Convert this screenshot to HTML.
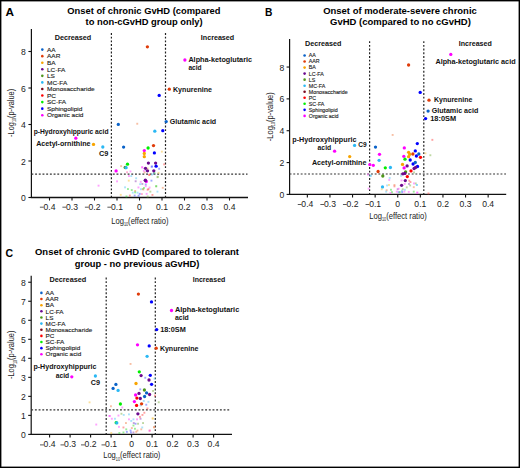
<!DOCTYPE html>
<html><head><meta charset="utf-8"><style>
html,body{margin:0;padding:0;background:#fff;}
body{width:520px;height:468px;overflow:hidden;}
svg{display:block;font-family:"Liberation Sans",sans-serif;}
</style></head><body>
<svg width="520" height="468" viewBox="0 0 520 468">
<rect x="0" y="0" width="520" height="468" fill="#fff"/>
<line x1="31.4" y1="29" x2="31.4" y2="198.1" stroke="#111" stroke-width="1.2"/>
<line x1="30.799999999999997" y1="197.5" x2="248" y2="197.5" stroke="#111" stroke-width="1.3"/>
<line x1="28.4" y1="197.5" x2="31.4" y2="197.5" stroke="#111" stroke-width="1.1"/>
<text x="23.5" y="201.0" font-size="8.6" text-anchor="middle" fill="#222">0</text>
<line x1="28.4" y1="161.0" x2="31.4" y2="161.0" stroke="#111" stroke-width="1.1"/>
<text x="23.5" y="164.5" font-size="8.6" text-anchor="middle" fill="#222">2</text>
<line x1="28.4" y1="124.5" x2="31.4" y2="124.5" stroke="#111" stroke-width="1.1"/>
<text x="23.5" y="128.0" font-size="8.6" text-anchor="middle" fill="#222">4</text>
<line x1="28.4" y1="88.0" x2="31.4" y2="88.0" stroke="#111" stroke-width="1.1"/>
<text x="23.5" y="91.5" font-size="8.6" text-anchor="middle" fill="#222">6</text>
<line x1="28.4" y1="51.5" x2="31.4" y2="51.5" stroke="#111" stroke-width="1.1"/>
<text x="23.5" y="55.0" font-size="8.6" text-anchor="middle" fill="#222">8</text>
<line x1="49.5" y1="197.5" x2="49.5" y2="200.5" stroke="#111" stroke-width="1.1"/>
<text x="49.5" y="209.5" font-size="8.6" text-anchor="middle" fill="#222">0.4</text>
<line x1="39.9" y1="207.2" x2="43.7" y2="207.2" stroke="#222" stroke-width="0.75"/>
<line x1="72.0" y1="197.5" x2="72.0" y2="200.5" stroke="#111" stroke-width="1.1"/>
<text x="72.0" y="209.5" font-size="8.6" text-anchor="middle" fill="#222">0.3</text>
<line x1="62.4" y1="207.2" x2="66.2" y2="207.2" stroke="#222" stroke-width="0.75"/>
<line x1="94.5" y1="197.5" x2="94.5" y2="200.5" stroke="#111" stroke-width="1.1"/>
<text x="94.5" y="209.5" font-size="8.6" text-anchor="middle" fill="#222">0.2</text>
<line x1="84.9" y1="207.2" x2="88.7" y2="207.2" stroke="#222" stroke-width="0.75"/>
<line x1="117.0" y1="197.5" x2="117.0" y2="200.5" stroke="#111" stroke-width="1.1"/>
<text x="117.0" y="209.5" font-size="8.6" text-anchor="middle" fill="#222">0.1</text>
<line x1="107.4" y1="207.2" x2="111.2" y2="207.2" stroke="#222" stroke-width="0.75"/>
<line x1="139.5" y1="197.5" x2="139.5" y2="200.5" stroke="#111" stroke-width="1.1"/>
<text x="139.5" y="209.5" font-size="8.6" text-anchor="middle" fill="#222">0</text>
<line x1="162.0" y1="197.5" x2="162.0" y2="200.5" stroke="#111" stroke-width="1.1"/>
<text x="162.0" y="209.5" font-size="8.6" text-anchor="middle" fill="#222">0.1</text>
<line x1="184.5" y1="197.5" x2="184.5" y2="200.5" stroke="#111" stroke-width="1.1"/>
<text x="184.5" y="209.5" font-size="8.6" text-anchor="middle" fill="#222">0.2</text>
<line x1="207.0" y1="197.5" x2="207.0" y2="200.5" stroke="#111" stroke-width="1.1"/>
<text x="207.0" y="209.5" font-size="8.6" text-anchor="middle" fill="#222">0.3</text>
<line x1="229.5" y1="197.5" x2="229.5" y2="200.5" stroke="#111" stroke-width="1.1"/>
<text x="229.5" y="209.5" font-size="8.6" text-anchor="middle" fill="#222">0.4</text>
<line x1="111.4" y1="33" x2="111.4" y2="197.5" stroke="#222" stroke-width="1.2" stroke-dasharray="1.9 1.8"/>
<line x1="165.5" y1="33" x2="165.5" y2="197.5" stroke="#222" stroke-width="1.2" stroke-dasharray="1.9 1.8"/>
<line x1="31.4" y1="174.2" x2="247.5" y2="174.2" stroke="#333" stroke-width="1.2" stroke-dasharray="1.9 1.8"/>
<line x1="289.6" y1="39" x2="289.6" y2="195.0" stroke="#111" stroke-width="1.2"/>
<line x1="289.0" y1="194.4" x2="506.2" y2="194.4" stroke="#111" stroke-width="1.3"/>
<line x1="286.6" y1="194.4" x2="289.6" y2="194.4" stroke="#111" stroke-width="1.1"/>
<text x="282.0" y="197.9" font-size="8.6" text-anchor="middle" fill="#222">0</text>
<line x1="286.6" y1="162.56" x2="289.6" y2="162.56" stroke="#111" stroke-width="1.1"/>
<text x="282.0" y="166.06" font-size="8.6" text-anchor="middle" fill="#222">2</text>
<line x1="286.6" y1="130.72" x2="289.6" y2="130.72" stroke="#111" stroke-width="1.1"/>
<text x="282.0" y="134.22" font-size="8.6" text-anchor="middle" fill="#222">4</text>
<line x1="286.6" y1="98.88000000000001" x2="289.6" y2="98.88000000000001" stroke="#111" stroke-width="1.1"/>
<text x="282.0" y="102.38" font-size="8.6" text-anchor="middle" fill="#222">6</text>
<line x1="286.6" y1="67.04" x2="289.6" y2="67.04" stroke="#111" stroke-width="1.1"/>
<text x="282.0" y="70.54" font-size="8.6" text-anchor="middle" fill="#222">8</text>
<line x1="307.35" y1="194.4" x2="307.35" y2="197.4" stroke="#111" stroke-width="1.1"/>
<text x="307.35" y="206.8" font-size="8.6" text-anchor="middle" fill="#222">0.4</text>
<line x1="297.75" y1="204.5" x2="301.55" y2="204.5" stroke="#222" stroke-width="0.75"/>
<line x1="329.95" y1="194.4" x2="329.95" y2="197.4" stroke="#111" stroke-width="1.1"/>
<text x="329.95" y="206.8" font-size="8.6" text-anchor="middle" fill="#222">0.3</text>
<line x1="320.35" y1="204.5" x2="324.15" y2="204.5" stroke="#222" stroke-width="0.75"/>
<line x1="352.55" y1="194.4" x2="352.55" y2="197.4" stroke="#111" stroke-width="1.1"/>
<text x="352.55" y="206.8" font-size="8.6" text-anchor="middle" fill="#222">0.2</text>
<line x1="342.95" y1="204.5" x2="346.75" y2="204.5" stroke="#222" stroke-width="0.75"/>
<line x1="375.15" y1="194.4" x2="375.15" y2="197.4" stroke="#111" stroke-width="1.1"/>
<text x="375.15" y="206.8" font-size="8.6" text-anchor="middle" fill="#222">0.1</text>
<line x1="365.55" y1="204.5" x2="369.35" y2="204.5" stroke="#222" stroke-width="0.75"/>
<line x1="397.75" y1="194.4" x2="397.75" y2="197.4" stroke="#111" stroke-width="1.1"/>
<text x="397.75" y="206.8" font-size="8.6" text-anchor="middle" fill="#222">0</text>
<line x1="420.35" y1="194.4" x2="420.35" y2="197.4" stroke="#111" stroke-width="1.1"/>
<text x="420.35" y="206.8" font-size="8.6" text-anchor="middle" fill="#222">0.1</text>
<line x1="442.95" y1="194.4" x2="442.95" y2="197.4" stroke="#111" stroke-width="1.1"/>
<text x="442.95" y="206.8" font-size="8.6" text-anchor="middle" fill="#222">0.2</text>
<line x1="465.55" y1="194.4" x2="465.55" y2="197.4" stroke="#111" stroke-width="1.1"/>
<text x="465.55" y="206.8" font-size="8.6" text-anchor="middle" fill="#222">0.3</text>
<line x1="488.15" y1="194.4" x2="488.15" y2="197.4" stroke="#111" stroke-width="1.1"/>
<text x="488.15" y="206.8" font-size="8.6" text-anchor="middle" fill="#222">0.4</text>
<line x1="369.6" y1="41.2" x2="369.6" y2="194.4" stroke="#222" stroke-width="1.2" stroke-dasharray="1.9 1.8"/>
<line x1="423.8" y1="41.2" x2="423.8" y2="194.4" stroke="#222" stroke-width="1.2" stroke-dasharray="1.9 1.8"/>
<line x1="289.6" y1="174.0" x2="506" y2="174.0" stroke="#333" stroke-width="1.2" stroke-dasharray="1.9 1.8"/>
<line x1="31.2" y1="275.8" x2="31.2" y2="435.0" stroke="#111" stroke-width="1.2"/>
<line x1="30.599999999999998" y1="434.4" x2="232" y2="434.4" stroke="#111" stroke-width="1.3"/>
<line x1="28.2" y1="434.4" x2="31.2" y2="434.4" stroke="#111" stroke-width="1.1"/>
<text x="23.5" y="437.9" font-size="8.6" text-anchor="middle" fill="#222">0</text>
<line x1="28.2" y1="415.38" x2="31.2" y2="415.38" stroke="#111" stroke-width="1.1"/>
<text x="23.5" y="418.88" font-size="8.6" text-anchor="middle" fill="#222">1</text>
<line x1="28.2" y1="396.35999999999996" x2="31.2" y2="396.35999999999996" stroke="#111" stroke-width="1.1"/>
<text x="23.5" y="399.86" font-size="8.6" text-anchor="middle" fill="#222">2</text>
<line x1="28.2" y1="377.34" x2="31.2" y2="377.34" stroke="#111" stroke-width="1.1"/>
<text x="23.5" y="380.84" font-size="8.6" text-anchor="middle" fill="#222">3</text>
<line x1="28.2" y1="358.32" x2="31.2" y2="358.32" stroke="#111" stroke-width="1.1"/>
<text x="23.5" y="361.82" font-size="8.6" text-anchor="middle" fill="#222">4</text>
<line x1="28.2" y1="339.29999999999995" x2="31.2" y2="339.29999999999995" stroke="#111" stroke-width="1.1"/>
<text x="23.5" y="342.8" font-size="8.6" text-anchor="middle" fill="#222">5</text>
<line x1="28.2" y1="320.28" x2="31.2" y2="320.28" stroke="#111" stroke-width="1.1"/>
<text x="23.5" y="323.78" font-size="8.6" text-anchor="middle" fill="#222">6</text>
<line x1="28.2" y1="301.26" x2="31.2" y2="301.26" stroke="#111" stroke-width="1.1"/>
<text x="23.5" y="304.76" font-size="8.6" text-anchor="middle" fill="#222">7</text>
<line x1="28.2" y1="282.24" x2="31.2" y2="282.24" stroke="#111" stroke-width="1.1"/>
<text x="23.5" y="285.74" font-size="8.6" text-anchor="middle" fill="#222">8</text>
<line x1="49.599999999999994" y1="434.4" x2="49.599999999999994" y2="437.4" stroke="#111" stroke-width="1.1"/>
<text x="49.6" y="447.2" font-size="8.6" text-anchor="middle" fill="#222">0.4</text>
<line x1="40.0" y1="444.9" x2="43.8" y2="444.9" stroke="#222" stroke-width="0.75"/>
<line x1="70.1" y1="434.4" x2="70.1" y2="437.4" stroke="#111" stroke-width="1.1"/>
<text x="70.1" y="447.2" font-size="8.6" text-anchor="middle" fill="#222">0.3</text>
<line x1="60.5" y1="444.9" x2="64.3" y2="444.9" stroke="#222" stroke-width="0.75"/>
<line x1="90.6" y1="434.4" x2="90.6" y2="437.4" stroke="#111" stroke-width="1.1"/>
<text x="90.6" y="447.2" font-size="8.6" text-anchor="middle" fill="#222">0.2</text>
<line x1="81.0" y1="444.9" x2="84.8" y2="444.9" stroke="#222" stroke-width="0.75"/>
<line x1="111.1" y1="434.4" x2="111.1" y2="437.4" stroke="#111" stroke-width="1.1"/>
<text x="111.1" y="447.2" font-size="8.6" text-anchor="middle" fill="#222">0.1</text>
<line x1="101.5" y1="444.9" x2="105.3" y2="444.9" stroke="#222" stroke-width="0.75"/>
<line x1="131.6" y1="434.4" x2="131.6" y2="437.4" stroke="#111" stroke-width="1.1"/>
<text x="131.6" y="447.2" font-size="8.6" text-anchor="middle" fill="#222">0</text>
<line x1="152.1" y1="434.4" x2="152.1" y2="437.4" stroke="#111" stroke-width="1.1"/>
<text x="152.1" y="447.2" font-size="8.6" text-anchor="middle" fill="#222">0.1</text>
<line x1="172.6" y1="434.4" x2="172.6" y2="437.4" stroke="#111" stroke-width="1.1"/>
<text x="172.6" y="447.2" font-size="8.6" text-anchor="middle" fill="#222">0.2</text>
<line x1="193.1" y1="434.4" x2="193.1" y2="437.4" stroke="#111" stroke-width="1.1"/>
<text x="193.1" y="447.2" font-size="8.6" text-anchor="middle" fill="#222">0.3</text>
<line x1="213.6" y1="434.4" x2="213.6" y2="437.4" stroke="#111" stroke-width="1.1"/>
<text x="213.6" y="447.2" font-size="8.6" text-anchor="middle" fill="#222">0.4</text>
<line x1="106.2" y1="277.5" x2="106.2" y2="434.4" stroke="#222" stroke-width="1.2" stroke-dasharray="1.9 1.8"/>
<line x1="155.3" y1="277.5" x2="155.3" y2="434.4" stroke="#222" stroke-width="1.2" stroke-dasharray="1.9 1.8"/>
<line x1="31.2" y1="409.8" x2="230" y2="409.8" stroke="#333" stroke-width="1.2" stroke-dasharray="1.9 1.8"/>
<text x="5.5" y="15.7" font-size="11.6" font-weight="bold" textLength="8.5" lengthAdjust="spacingAndGlyphs" fill="#000">A</text>
<text x="264.9" y="15.7" font-size="11.6" font-weight="bold" textLength="7.4" lengthAdjust="spacingAndGlyphs" fill="#000">B</text>
<text x="5.5" y="257.0" font-size="11.6" font-weight="bold" textLength="7.6" lengthAdjust="spacingAndGlyphs" fill="#000">C</text>
<text x="67.3" y="13.6" font-size="9.7" font-weight="bold" textLength="153.2" lengthAdjust="spacingAndGlyphs" fill="#000">Onset of chronic GvHD (compared</text>
<text x="85.6" y="24.6" font-size="9.7" font-weight="bold" textLength="117.0" lengthAdjust="spacingAndGlyphs" fill="#000">to non-cGvHD group only)</text>
<text x="323.2" y="13.6" font-size="9.7" font-weight="bold" textLength="153.6" lengthAdjust="spacingAndGlyphs" fill="#000">Onset of moderate-severe chronic</text>
<text x="330.1" y="24.6" font-size="9.7" font-weight="bold" textLength="140.8" lengthAdjust="spacingAndGlyphs" fill="#000">GvHD (compared to no cGvHD)</text>
<text x="35.0" y="255.1" font-size="9.7" font-weight="bold" textLength="204.0" lengthAdjust="spacingAndGlyphs" fill="#000">Onset of chronic GvHD (compared to tolerant</text>
<text x="74.8" y="266.5" font-size="9.7" font-weight="bold" textLength="124.6" lengthAdjust="spacingAndGlyphs" fill="#000">group - no previous aGvHD)</text>
<text x="54.7" y="39.9" font-size="7.4" font-weight="bold" textLength="36.6" lengthAdjust="spacingAndGlyphs" fill="#111">Decreased</text>
<text x="200.8" y="40.0" font-size="7.4" font-weight="bold" textLength="33.4" lengthAdjust="spacingAndGlyphs" fill="#111">Increased</text>
<text x="305.0" y="45.6" font-size="7.4" font-weight="bold" textLength="36.4" lengthAdjust="spacingAndGlyphs" fill="#111">Decreased</text>
<text x="458.8" y="45.6" font-size="7.4" font-weight="bold" textLength="33.0" lengthAdjust="spacingAndGlyphs" fill="#111">Increased</text>
<text x="49.4" y="281.8" font-size="7.4" font-weight="bold" textLength="36.9" lengthAdjust="spacingAndGlyphs" fill="#111">Decreased</text>
<text x="192.7" y="282.2" font-size="7.4" font-weight="bold" textLength="32.6" lengthAdjust="spacingAndGlyphs" fill="#111">Increased</text>
<circle cx="42.3" cy="49.6" r="1.3" fill="#0a62c8"/>
<circle cx="42.3" cy="56.16" r="1.3" fill="#e03c0a"/>
<circle cx="42.3" cy="62.72" r="1.3" fill="#f8a400"/>
<circle cx="42.3" cy="69.28" r="1.3" fill="#6c0a8e"/>
<circle cx="42.3" cy="75.84" r="1.3" fill="#4e961c"/>
<circle cx="42.3" cy="82.4" r="1.3" fill="#2ab8f4"/>
<circle cx="42.3" cy="88.96" r="1.3" fill="#7a0a1e"/>
<circle cx="42.3" cy="95.52" r="1.3" fill="#ff0000"/>
<circle cx="42.3" cy="102.08" r="1.3" fill="#00ee00"/>
<circle cx="42.3" cy="108.64" r="1.3" fill="#0000ff"/>
<circle cx="42.3" cy="115.2" r="1.3" fill="#ff00ff"/>
<g transform="translate(47.0,0) scale(1.05,1)">
<text x="0" y="51.83" font-size="6.2" fill="#1a1a1a" stroke="#1a1a1a" stroke-width="0.12">AA</text>
<text x="0" y="58.39" font-size="6.2" fill="#1a1a1a" stroke="#1a1a1a" stroke-width="0.12">AAR</text>
<text x="0" y="64.95" font-size="6.2" fill="#1a1a1a" stroke="#1a1a1a" stroke-width="0.12">BA</text>
<text x="0" y="71.51" font-size="6.2" fill="#1a1a1a" stroke="#1a1a1a" stroke-width="0.12">LC-FA</text>
<text x="0" y="78.07" font-size="6.2" fill="#1a1a1a" stroke="#1a1a1a" stroke-width="0.12">LS</text>
<text x="0" y="84.63" font-size="6.2" fill="#1a1a1a" stroke="#1a1a1a" stroke-width="0.12">MC-FA</text>
<text x="0" y="91.19" font-size="6.2" fill="#1a1a1a" stroke="#1a1a1a" stroke-width="0.12">Monosaccharide</text>
<text x="0" y="97.75" font-size="6.2" fill="#1a1a1a" stroke="#1a1a1a" stroke-width="0.12">PC</text>
<text x="0" y="104.31" font-size="6.2" fill="#1a1a1a" stroke="#1a1a1a" stroke-width="0.12">SC-FA</text>
<text x="0" y="110.87" font-size="6.2" fill="#1a1a1a" stroke="#1a1a1a" stroke-width="0.12">Sphingolipid</text>
<text x="0" y="117.43" font-size="6.2" fill="#1a1a1a" stroke="#1a1a1a" stroke-width="0.12">Organic acid</text>
</g>
<circle cx="304.6" cy="55.5" r="1.3" fill="#0a62c8"/>
<circle cx="304.6" cy="61.54" r="1.3" fill="#e03c0a"/>
<circle cx="304.6" cy="67.58" r="1.3" fill="#f8a400"/>
<circle cx="304.6" cy="73.62" r="1.3" fill="#6c0a8e"/>
<circle cx="304.6" cy="79.66" r="1.3" fill="#4e961c"/>
<circle cx="304.6" cy="85.7" r="1.3" fill="#2ab8f4"/>
<circle cx="304.6" cy="91.74" r="1.3" fill="#7a0a1e"/>
<circle cx="304.6" cy="97.78" r="1.3" fill="#ff0000"/>
<circle cx="304.6" cy="103.82" r="1.3" fill="#00ee00"/>
<circle cx="304.6" cy="109.86" r="1.3" fill="#0000ff"/>
<circle cx="304.6" cy="115.9" r="1.3" fill="#ff00ff"/>
<g transform="translate(308.8,0) scale(1.0,1)">
<text x="0" y="57.41" font-size="5.3" fill="#1a1a1a" stroke="#1a1a1a" stroke-width="0.12">AA</text>
<text x="0" y="63.45" font-size="5.3" fill="#1a1a1a" stroke="#1a1a1a" stroke-width="0.12">AAR</text>
<text x="0" y="69.49" font-size="5.3" fill="#1a1a1a" stroke="#1a1a1a" stroke-width="0.12">BA</text>
<text x="0" y="75.53" font-size="5.3" fill="#1a1a1a" stroke="#1a1a1a" stroke-width="0.12">LC-FA</text>
<text x="0" y="81.57" font-size="5.3" fill="#1a1a1a" stroke="#1a1a1a" stroke-width="0.12">LS</text>
<text x="0" y="87.61" font-size="5.3" fill="#1a1a1a" stroke="#1a1a1a" stroke-width="0.12">MC-FA</text>
<text x="0" y="93.65" font-size="5.3" fill="#1a1a1a" stroke="#1a1a1a" stroke-width="0.12">Monosaccharide</text>
<text x="0" y="99.69" font-size="5.3" fill="#1a1a1a" stroke="#1a1a1a" stroke-width="0.12">PC</text>
<text x="0" y="105.73" font-size="5.3" fill="#1a1a1a" stroke="#1a1a1a" stroke-width="0.12">SC-FA</text>
<text x="0" y="111.77" font-size="5.3" fill="#1a1a1a" stroke="#1a1a1a" stroke-width="0.12">Sphingolipid</text>
<text x="0" y="117.81" font-size="5.3" fill="#1a1a1a" stroke="#1a1a1a" stroke-width="0.12">Organic acid</text>
</g>
<circle cx="41.4" cy="292.9" r="1.3" fill="#0a62c8"/>
<circle cx="41.4" cy="299.04" r="1.3" fill="#e03c0a"/>
<circle cx="41.4" cy="305.18" r="1.3" fill="#f8a400"/>
<circle cx="41.4" cy="311.32" r="1.3" fill="#6c0a8e"/>
<circle cx="41.4" cy="317.46" r="1.3" fill="#4e961c"/>
<circle cx="41.4" cy="323.6" r="1.3" fill="#2ab8f4"/>
<circle cx="41.4" cy="329.74" r="1.3" fill="#7a0a1e"/>
<circle cx="41.4" cy="335.88" r="1.3" fill="#ff0000"/>
<circle cx="41.4" cy="342.02" r="1.3" fill="#00ee00"/>
<circle cx="41.4" cy="348.16" r="1.3" fill="#0000ff"/>
<circle cx="41.4" cy="354.3" r="1.3" fill="#ff00ff"/>
<g transform="translate(45.6,0) scale(1.045,1)">
<text x="0" y="295.1" font-size="6.1" fill="#1a1a1a" stroke="#1a1a1a" stroke-width="0.12">AA</text>
<text x="0" y="301.24" font-size="6.1" fill="#1a1a1a" stroke="#1a1a1a" stroke-width="0.12">AAR</text>
<text x="0" y="307.38" font-size="6.1" fill="#1a1a1a" stroke="#1a1a1a" stroke-width="0.12">BA</text>
<text x="0" y="313.52" font-size="6.1" fill="#1a1a1a" stroke="#1a1a1a" stroke-width="0.12">LC-FA</text>
<text x="0" y="319.66" font-size="6.1" fill="#1a1a1a" stroke="#1a1a1a" stroke-width="0.12">LS</text>
<text x="0" y="325.8" font-size="6.1" fill="#1a1a1a" stroke="#1a1a1a" stroke-width="0.12">MC-FA</text>
<text x="0" y="331.94" font-size="6.1" fill="#1a1a1a" stroke="#1a1a1a" stroke-width="0.12">Monosaccharide</text>
<text x="0" y="338.08" font-size="6.1" fill="#1a1a1a" stroke="#1a1a1a" stroke-width="0.12">PC</text>
<text x="0" y="344.22" font-size="6.1" fill="#1a1a1a" stroke="#1a1a1a" stroke-width="0.12">SC-FA</text>
<text x="0" y="350.36" font-size="6.1" fill="#1a1a1a" stroke="#1a1a1a" stroke-width="0.12">Sphingolipid</text>
<text x="0" y="356.5" font-size="6.1" fill="#1a1a1a" stroke="#1a1a1a" stroke-width="0.12">Organic acid</text>
</g>
<text x="111.2" y="223.5" font-size="9.2" fill="#222" textLength="57.3" lengthAdjust="spacingAndGlyphs">Log<tspan font-size="4.6" dy="2.6">10</tspan><tspan dy="-2.6">(effect ratio)</tspan></text>
<text x="369.29999999999995" y="218.5" font-size="9.2" fill="#222" textLength="57.400000000000034" lengthAdjust="spacingAndGlyphs">Log<tspan font-size="4.6" dy="2.6">10</tspan><tspan dy="-2.6">(effect ratio)</tspan></text>
<text x="103.2" y="458.2" font-size="9.2" fill="#222" textLength="57.2" lengthAdjust="spacingAndGlyphs">Log<tspan font-size="4.6" dy="2.6">10</tspan><tspan dy="-2.6">(effect ratio)</tspan></text>
<text transform="translate(13.8,136.9) rotate(-90)" x="0" y="0" font-size="9.2" fill="#222" textLength="48.10000000000001" lengthAdjust="spacingAndGlyphs">-Log<tspan font-size="4.6" dy="2.6">10</tspan><tspan dy="-2.6">(p-value)</tspan></text>
<text transform="translate(272.8,141.2) rotate(-90)" x="0" y="0" font-size="9.2" fill="#222" textLength="48.999999999999986" lengthAdjust="spacingAndGlyphs">-Log<tspan font-size="4.6" dy="2.6">10</tspan><tspan dy="-2.6">(p-value)</tspan></text>
<text transform="translate(13.9,379.0) rotate(-90)" x="0" y="0" font-size="9.2" fill="#222" textLength="48.39999999999998" lengthAdjust="spacingAndGlyphs">-Log<tspan font-size="4.6" dy="2.6">10</tspan><tspan dy="-2.6">(p-value)</tspan></text>
<rect x="136.3" y="122.8" width="1.9" height="1.9" fill="#f08a5a" opacity="0.55"/>
<rect x="160.9" y="150.7" width="1.9" height="1.9" fill="#f7c64a" opacity="0.55"/>
<rect x="120.2" y="165.2" width="1.9" height="1.9" fill="#f08a5a" opacity="0.55"/>
<rect x="126.1" y="171.3" width="1.9" height="1.9" fill="#ff66aa" opacity="0.55"/>
<rect x="129.5" y="170.5" width="1.9" height="1.9" fill="#ff55ff" opacity="0.55"/>
<rect x="141.3" y="166.1" width="1.9" height="1.9" fill="#ff55ff" opacity="0.55"/>
<rect x="151.1" y="165.5" width="1.9" height="1.9" fill="#5560ff" opacity="0.55"/>
<rect x="158.2" y="167.8" width="1.9" height="1.9" fill="#5560ff" opacity="0.55"/>
<rect x="163.2" y="163.4" width="1.9" height="1.9" fill="#ff5555" opacity="0.55"/>
<rect x="128.0" y="175.1" width="1.9" height="1.9" fill="#ff55ff" opacity="0.55"/>
<rect x="130.3" y="175.1" width="1.9" height="1.9" fill="#66ccf5" opacity="0.55"/>
<rect x="116.1" y="180.4" width="1.9" height="1.9" fill="#ff55ff" opacity="0.55"/>
<rect x="135.2" y="177.3" width="1.9" height="1.9" fill="#66ccf5" opacity="0.55"/>
<rect x="127.8" y="179.7" width="1.9" height="1.9" fill="#f7c64a" opacity="0.55"/>
<rect x="134.7" y="180.3" width="1.9" height="1.9" fill="#9955bb" opacity="0.55"/>
<rect x="150.5" y="179.7" width="1.9" height="1.9" fill="#5560ff" opacity="0.55"/>
<rect x="156.8" y="175.8" width="1.9" height="1.9" fill="#88b855" opacity="0.55"/>
<rect x="139.8" y="180.9" width="1.9" height="1.9" fill="#ff55ff" opacity="0.55"/>
<rect x="139.2" y="183.2" width="1.9" height="1.9" fill="#66ccf5" opacity="0.55"/>
<rect x="141.4" y="183.0" width="1.9" height="1.9" fill="#9955bb" opacity="0.55"/>
<rect x="144.8" y="183.5" width="1.9" height="1.9" fill="#5560ff" opacity="0.55"/>
<rect x="144.8" y="185.2" width="1.9" height="1.9" fill="#ff55ff" opacity="0.55"/>
<rect x="124.1" y="186.4" width="1.9" height="1.9" fill="#66ccf5" opacity="0.55"/>
<rect x="127.0" y="188.1" width="1.9" height="1.9" fill="#44e044" opacity="0.55"/>
<rect x="130.8" y="189.1" width="1.9" height="1.9" fill="#44e044" opacity="0.55"/>
<rect x="134.2" y="190.0" width="1.9" height="1.9" fill="#f08a5a" opacity="0.55"/>
<rect x="146.7" y="188.8" width="1.9" height="1.9" fill="#ff5555" opacity="0.55"/>
<rect x="147.5" y="188.1" width="1.9" height="1.9" fill="#ff5555" opacity="0.55"/>
<rect x="148.6" y="186.6" width="1.9" height="1.9" fill="#ff55ff" opacity="0.55"/>
<rect x="141.9" y="188.1" width="1.9" height="1.9" fill="#88b855" opacity="0.55"/>
<rect x="142.4" y="188.6" width="1.9" height="1.9" fill="#f08a5a" opacity="0.55"/>
<rect x="140.0" y="188.3" width="1.9" height="1.9" fill="#66ccf5" opacity="0.55"/>
<rect x="155.2" y="185.4" width="1.9" height="1.9" fill="#88b855" opacity="0.55"/>
<rect x="161.8" y="186.9" width="1.9" height="1.9" fill="#f08a5a" opacity="0.55"/>
<rect x="156.5" y="190.7" width="1.9" height="1.9" fill="#66ccf5" opacity="0.55"/>
<rect x="149.4" y="190.7" width="1.9" height="1.9" fill="#88b855" opacity="0.55"/>
<rect x="131.8" y="191.7" width="1.9" height="1.9" fill="#66ccf5" opacity="0.55"/>
<rect x="134.2" y="191.4" width="1.9" height="1.9" fill="#44e044" opacity="0.55"/>
<rect x="136.6" y="191.7" width="1.9" height="1.9" fill="#66ccf5" opacity="0.55"/>
<rect x="138.8" y="192.9" width="1.9" height="1.9" fill="#5560ff" opacity="0.55"/>
<rect x="140.9" y="193.1" width="1.9" height="1.9" fill="#ff66aa" opacity="0.55"/>
<rect x="145.7" y="192.9" width="1.9" height="1.9" fill="#ff55ff" opacity="0.55"/>
<rect x="128.9" y="194.6" width="1.9" height="1.9" fill="#ff5555" opacity="0.55"/>
<rect x="133.7" y="194.6" width="1.9" height="1.9" fill="#5560ff" opacity="0.55"/>
<rect x="137.6" y="194.8" width="1.9" height="1.9" fill="#5560ff" opacity="0.55"/>
<rect x="125.5" y="195.5" width="1.9" height="1.9" fill="#44e044" opacity="0.55"/>
<rect x="119.8" y="193.9" width="1.9" height="1.9" fill="#f7c64a" opacity="0.55"/>
<rect x="146.7" y="195.5" width="1.9" height="1.9" fill="#88b855" opacity="0.55"/>
<rect x="152.9" y="172.4" width="1.9" height="1.9" fill="#5560ff" opacity="0.55"/>
<rect x="148.6" y="173.7" width="1.9" height="1.9" fill="#ff5555" opacity="0.55"/>
<rect x="97.6" y="184.7" width="1.9" height="1.9" fill="#ff55ff" opacity="0.55"/>
<rect x="156.6" y="176.2" width="1.9" height="1.9" fill="#88b855" opacity="0.55"/>
<rect x="150.7" y="165.8" width="1.9" height="1.9" fill="#5560ff" opacity="0.55"/>
<rect x="141.2" y="166.6" width="1.9" height="1.9" fill="#ff55ff" opacity="0.55"/>
<rect x="142.9" y="169.9" width="1.9" height="1.9" fill="#ff55ff" opacity="0.55"/>
<rect x="146.6" y="167.6" width="1.9" height="1.9" fill="#f7c64a" opacity="0.55"/>
<rect x="145.4" y="169.7" width="1.9" height="1.9" fill="#5560ff" opacity="0.55"/>
<rect x="143.6" y="171.5" width="1.9" height="1.9" fill="#f08a5a" opacity="0.55"/>
<rect x="148.2" y="174.0" width="1.9" height="1.9" fill="#ff5555" opacity="0.55"/>
<rect x="151.1" y="173.6" width="1.9" height="1.9" fill="#66ccf5" opacity="0.55"/>
<rect x="153.5" y="172.2" width="1.9" height="1.9" fill="#44e044" opacity="0.55"/>
<rect x="157.6" y="171.9" width="1.9" height="1.9" fill="#f7c64a" opacity="0.55"/>
<rect x="155.3" y="185.2" width="1.9" height="1.9" fill="#44e044" opacity="0.55"/>
<rect x="143.0" y="187.0" width="1.9" height="1.9" fill="#44e044" opacity="0.55"/>
<rect x="137.5" y="186.5" width="1.9" height="1.9" fill="#ff55ff" opacity="0.55"/>
<rect x="151.5" y="194.0" width="1.9" height="1.9" fill="#ff5555" opacity="0.55"/>
<rect x="391.7" y="134.0" width="1.9" height="1.9" fill="#f08a5a" opacity="0.55"/>
<rect x="424.5" y="152.4" width="1.9" height="1.9" fill="#f7c64a" opacity="0.55"/>
<rect x="431.4" y="138.9" width="1.9" height="1.9" fill="#ff5555" opacity="0.55"/>
<rect x="429.4" y="154.3" width="1.9" height="1.9" fill="#88b855" opacity="0.55"/>
<rect x="416.3" y="191.7" width="1.9" height="1.9" fill="#ff55ff" opacity="0.55"/>
<rect x="427.5" y="192.5" width="1.9" height="1.9" fill="#ff5555" opacity="0.55"/>
<rect x="415.8" y="184.0" width="1.9" height="1.9" fill="#66ccf5" opacity="0.55"/>
<rect x="414.8" y="182.5" width="1.9" height="1.9" fill="#88b855" opacity="0.55"/>
<rect x="367.0" y="173.6" width="1.9" height="1.9" fill="#ff55ff" opacity="0.55"/>
<rect x="370.0" y="174.9" width="1.9" height="1.9" fill="#66ccf5" opacity="0.55"/>
<rect x="367.7" y="187.7" width="1.9" height="1.9" fill="#ff55ff" opacity="0.55"/>
<rect x="369.3" y="174.6" width="1.9" height="1.9" fill="#66ccf5" opacity="0.55"/>
<rect x="413.1" y="171.5" width="1.9" height="1.9" fill="#88b855" opacity="0.55"/>
<rect x="388.7" y="177.0" width="1.9" height="1.9" fill="#66ccf5" opacity="0.55"/>
<rect x="388.3" y="179.0" width="1.9" height="1.9" fill="#ff55ff" opacity="0.55"/>
<rect x="400.1" y="174.8" width="1.9" height="1.9" fill="#66ccf5" opacity="0.55"/>
<rect x="400.6" y="179.5" width="1.9" height="1.9" fill="#ff55ff" opacity="0.55"/>
<rect x="403.7" y="183.0" width="1.9" height="1.9" fill="#ff55ff" opacity="0.55"/>
<rect x="408.3" y="179.7" width="1.9" height="1.9" fill="#ff5555" opacity="0.55"/>
<rect x="409.5" y="181.1" width="1.9" height="1.9" fill="#ff5555" opacity="0.55"/>
<rect x="408.0" y="183.0" width="1.9" height="1.9" fill="#9955bb" opacity="0.55"/>
<rect x="409.2" y="184.5" width="1.9" height="1.9" fill="#88b855" opacity="0.55"/>
<rect x="413.0" y="182.5" width="1.9" height="1.9" fill="#ff55ff" opacity="0.55"/>
<rect x="416.0" y="184.0" width="1.9" height="1.9" fill="#66ccf5" opacity="0.55"/>
<rect x="412.8" y="186.2" width="1.9" height="1.9" fill="#f08a5a" opacity="0.55"/>
<rect x="405.8" y="186.4" width="1.9" height="1.9" fill="#88b855" opacity="0.55"/>
<rect x="393.5" y="184.0" width="1.9" height="1.9" fill="#f08a5a" opacity="0.55"/>
<rect x="393.5" y="185.4" width="1.9" height="1.9" fill="#ff5555" opacity="0.55"/>
<rect x="388.0" y="184.0" width="1.9" height="1.9" fill="#f7c64a" opacity="0.55"/>
<rect x="386.1" y="184.5" width="1.9" height="1.9" fill="#66ccf5" opacity="0.55"/>
<rect x="380.8" y="188.3" width="1.9" height="1.9" fill="#f7c64a" opacity="0.55"/>
<rect x="385.7" y="189.3" width="1.9" height="1.9" fill="#f08a5a" opacity="0.55"/>
<rect x="385.2" y="190.7" width="1.9" height="1.9" fill="#66ccf5" opacity="0.55"/>
<rect x="390.0" y="188.8" width="1.9" height="1.9" fill="#44e044" opacity="0.55"/>
<rect x="391.0" y="191.2" width="1.9" height="1.9" fill="#44e044" opacity="0.55"/>
<rect x="389.5" y="192.0" width="1.9" height="1.9" fill="#ff55ff" opacity="0.55"/>
<rect x="396.7" y="188.3" width="1.9" height="1.9" fill="#9955bb" opacity="0.55"/>
<rect x="397.7" y="187.8" width="1.9" height="1.9" fill="#ff55ff" opacity="0.55"/>
<rect x="395.8" y="190.7" width="1.9" height="1.9" fill="#ff55ff" opacity="0.55"/>
<rect x="397.7" y="191.2" width="1.9" height="1.9" fill="#5560ff" opacity="0.55"/>
<rect x="398.9" y="191.2" width="1.9" height="1.9" fill="#44e044" opacity="0.55"/>
<rect x="401.0" y="189.8" width="1.9" height="1.9" fill="#66ccf5" opacity="0.55"/>
<rect x="401.8" y="188.3" width="1.9" height="1.9" fill="#88b855" opacity="0.55"/>
<rect x="403.9" y="188.8" width="1.9" height="1.9" fill="#66ccf5" opacity="0.55"/>
<rect x="403.4" y="190.7" width="1.9" height="1.9" fill="#ff55ff" opacity="0.55"/>
<rect x="407.8" y="191.0" width="1.9" height="1.9" fill="#ff55ff" opacity="0.55"/>
<rect x="412.8" y="190.7" width="1.9" height="1.9" fill="#44e044" opacity="0.55"/>
<rect x="416.4" y="191.7" width="1.9" height="1.9" fill="#ff55ff" opacity="0.55"/>
<rect x="401.2" y="191.2" width="1.9" height="1.9" fill="#5560ff" opacity="0.55"/>
<rect x="129.6" y="363.0" width="1.9" height="1.9" fill="#f08a5a" opacity="0.55"/>
<rect x="144.3" y="376.8" width="1.9" height="1.9" fill="#5560ff" opacity="0.55"/>
<rect x="153.6" y="377.8" width="1.9" height="1.9" fill="#66ccf5" opacity="0.55"/>
<rect x="139.3" y="388.4" width="1.9" height="1.9" fill="#5560ff" opacity="0.55"/>
<rect x="152.1" y="390.0" width="1.9" height="1.9" fill="#88b855" opacity="0.55"/>
<rect x="154.0" y="394.6" width="1.9" height="1.9" fill="#ff5555" opacity="0.55"/>
<rect x="142.8" y="400.0" width="1.9" height="1.9" fill="#66ccf5" opacity="0.55"/>
<rect x="147.5" y="400.9" width="1.9" height="1.9" fill="#66ccf5" opacity="0.55"/>
<rect x="139.6" y="404.6" width="1.9" height="1.9" fill="#66ccf5" opacity="0.55"/>
<rect x="145.3" y="403.8" width="1.9" height="1.9" fill="#5560ff" opacity="0.55"/>
<rect x="121.3" y="406.5" width="1.9" height="1.9" fill="#ff55ff" opacity="0.55"/>
<rect x="110.0" y="405.3" width="1.9" height="1.9" fill="#f08a5a" opacity="0.55"/>
<rect x="146.5" y="407.5" width="1.9" height="1.9" fill="#ff5555" opacity="0.55"/>
<rect x="157.8" y="401.3" width="1.9" height="1.9" fill="#88b855" opacity="0.55"/>
<rect x="88.6" y="401.4" width="1.9" height="1.9" fill="#f7c64a" opacity="0.55"/>
<rect x="95.3" y="423.6" width="1.9" height="1.9" fill="#ff55ff" opacity="0.55"/>
<rect x="108.5" y="415.0" width="1.9" height="1.9" fill="#ff55ff" opacity="0.55"/>
<rect x="108.8" y="415.0" width="1.9" height="1.9" fill="#ff55ff" opacity="0.55"/>
<rect x="110.9" y="417.8" width="1.9" height="1.9" fill="#ff55ff" opacity="0.55"/>
<rect x="114.0" y="417.8" width="1.9" height="1.9" fill="#66ccf5" opacity="0.55"/>
<rect x="117.5" y="414.6" width="1.9" height="1.9" fill="#ff55ff" opacity="0.55"/>
<rect x="122.8" y="414.0" width="1.9" height="1.9" fill="#66ccf5" opacity="0.55"/>
<rect x="120.5" y="412.8" width="1.9" height="1.9" fill="#88b855" opacity="0.55"/>
<rect x="128.0" y="413.4" width="1.9" height="1.9" fill="#66ccf5" opacity="0.55"/>
<rect x="141.5" y="414.0" width="1.9" height="1.9" fill="#ff5555" opacity="0.55"/>
<rect x="143.4" y="411.8" width="1.9" height="1.9" fill="#ff5555" opacity="0.55"/>
<rect x="139.0" y="415.9" width="1.9" height="1.9" fill="#ff5555" opacity="0.55"/>
<rect x="136.1" y="418.4" width="1.9" height="1.9" fill="#ff55ff" opacity="0.55"/>
<rect x="139.6" y="417.8" width="1.9" height="1.9" fill="#9955bb" opacity="0.55"/>
<rect x="132.5" y="418.4" width="1.9" height="1.9" fill="#66ccf5" opacity="0.55"/>
<rect x="128.0" y="418.4" width="1.9" height="1.9" fill="#ff55ff" opacity="0.55"/>
<rect x="130.3" y="420.0" width="1.9" height="1.9" fill="#66ccf5" opacity="0.55"/>
<rect x="125.0" y="422.1" width="1.9" height="1.9" fill="#f08a5a" opacity="0.55"/>
<rect x="132.8" y="422.1" width="1.9" height="1.9" fill="#9955bb" opacity="0.55"/>
<rect x="134.6" y="422.8" width="1.9" height="1.9" fill="#5560ff" opacity="0.55"/>
<rect x="137.1" y="422.8" width="1.9" height="1.9" fill="#88b855" opacity="0.55"/>
<rect x="142.1" y="422.1" width="1.9" height="1.9" fill="#88b855" opacity="0.55"/>
<rect x="132.5" y="424.6" width="1.9" height="1.9" fill="#44e044" opacity="0.55"/>
<rect x="118.0" y="425.9" width="1.9" height="1.9" fill="#ff55ff" opacity="0.55"/>
<rect x="122.5" y="426.5" width="1.9" height="1.9" fill="#ff5555" opacity="0.55"/>
<rect x="125.3" y="428.4" width="1.9" height="1.9" fill="#44e044" opacity="0.55"/>
<rect x="130.9" y="427.1" width="1.9" height="1.9" fill="#f08a5a" opacity="0.55"/>
<rect x="134.0" y="427.8" width="1.9" height="1.9" fill="#44e044" opacity="0.55"/>
<rect x="129.6" y="429.6" width="1.9" height="1.9" fill="#5560ff" opacity="0.55"/>
<rect x="125.9" y="430.9" width="1.9" height="1.9" fill="#5560ff" opacity="0.55"/>
<rect x="136.5" y="429.6" width="1.9" height="1.9" fill="#f08a5a" opacity="0.55"/>
<rect x="140.3" y="428.4" width="1.9" height="1.9" fill="#f08a5a" opacity="0.55"/>
<rect x="141.3" y="426.5" width="1.9" height="1.9" fill="#66ccf5" opacity="0.55"/>
<rect x="148.8" y="429.6" width="1.9" height="1.9" fill="#ff5555" opacity="0.55"/>
<rect x="151.5" y="417.5" width="1.9" height="1.9" fill="#f7c64a" opacity="0.55"/>
<rect x="153.0" y="426.3" width="1.9" height="1.9" fill="#f08a5a" opacity="0.55"/>
<rect x="122.5" y="431.5" width="1.9" height="1.9" fill="#44e044" opacity="0.55"/>
<rect x="118.4" y="432.1" width="1.9" height="1.9" fill="#44e044" opacity="0.55"/>
<rect x="130.0" y="431.5" width="1.9" height="1.9" fill="#5560ff" opacity="0.55"/>
<rect x="132.5" y="431.5" width="1.9" height="1.9" fill="#9955bb" opacity="0.55"/>
<rect x="135.3" y="430.9" width="1.9" height="1.9" fill="#f08a5a" opacity="0.55"/>
<rect x="110.3" y="432.1" width="1.9" height="1.9" fill="#f7c64a" opacity="0.55"/>
<rect x="148.5" y="429.8" width="1.9" height="1.9" fill="#ff55ff" opacity="0.55"/>
<rect x="152.0" y="417.6" width="1.9" height="1.9" fill="#f7c64a" opacity="0.55"/>
<rect x="153.2" y="426.3" width="1.9" height="1.9" fill="#f08a5a" opacity="0.55"/>
<circle cx="147.4" cy="46.8" r="1.65" fill="#e03c0a"/>
<circle cx="184.9" cy="60.0" r="1.65" fill="#ff00ff"/>
<circle cx="169.3" cy="89.2" r="1.65" fill="#e03c0a"/>
<circle cx="159.2" cy="95.4" r="1.65" fill="#0000ff"/>
<circle cx="166.2" cy="121.6" r="1.65" fill="#0a62c8"/>
<circle cx="118.3" cy="124.4" r="1.65" fill="#0a62c8"/>
<circle cx="154.8" cy="131.2" r="1.65" fill="#2ab8f4"/>
<circle cx="162.8" cy="130.7" r="1.65" fill="#0000ff"/>
<circle cx="75.8" cy="138.2" r="1.65" fill="#ff00ff"/>
<circle cx="93.5" cy="144.4" r="1.65" fill="#f8a400"/>
<circle cx="102.8" cy="147.0" r="1.65" fill="#2ab8f4"/>
<circle cx="123.6" cy="147.1" r="1.65" fill="#0a62c8"/>
<circle cx="153.5" cy="145.6" r="1.65" fill="#e03c0a"/>
<circle cx="148.1" cy="148.0" r="1.65" fill="#00ee00"/>
<circle cx="144.3" cy="150.6" r="1.65" fill="#ff00ff"/>
<circle cx="144.3" cy="153.5" r="1.65" fill="#f8a400"/>
<circle cx="144.3" cy="156.7" r="1.65" fill="#f8a400"/>
<circle cx="154.4" cy="152.9" r="1.65" fill="#0000ff"/>
<circle cx="127.5" cy="164.2" r="1.65" fill="#00ee00"/>
<circle cx="125.2" cy="167.5" r="1.65" fill="#4e961c"/>
<circle cx="126.1" cy="167.7" r="1.65" fill="#2ab8f4"/>
<circle cx="116.1" cy="170.9" r="1.65" fill="#ff00ff"/>
<circle cx="148.4" cy="163.1" r="1.65" fill="#6c0a8e"/>
<circle cx="155.6" cy="163.1" r="1.65" fill="#6c0a8e"/>
<circle cx="156.1" cy="166.2" r="1.65" fill="#0000ff"/>
<circle cx="145.5" cy="168.3" r="1.65" fill="#6c0a8e"/>
<circle cx="147.5" cy="170.8" r="1.65" fill="#6c0a8e"/>
<circle cx="153.8" cy="170.8" r="1.65" fill="#6c0a8e"/>
<circle cx="145.3" cy="180.2" r="1.65" fill="#6c0a8e"/>
<circle cx="146.3" cy="181.4" r="1.65" fill="#ff00ff"/>
<circle cx="145.5" cy="180.6" r="1.65" fill="#6c0a8e"/>
<circle cx="450.8" cy="54.4" r="1.65" fill="#ff00ff"/>
<circle cx="408.6" cy="65.0" r="1.65" fill="#e03c0a"/>
<circle cx="420.2" cy="92.4" r="1.65" fill="#0000ff"/>
<circle cx="429.0" cy="100.2" r="1.65" fill="#e03c0a"/>
<circle cx="428.1" cy="111.1" r="1.65" fill="#0a62c8"/>
<circle cx="425.6" cy="118.6" r="1.65" fill="#0000ff"/>
<circle cx="354.6" cy="145.4" r="1.65" fill="#2ab8f4"/>
<circle cx="334.6" cy="151.2" r="1.65" fill="#ff00ff"/>
<circle cx="349.7" cy="156.6" r="1.65" fill="#f8a400"/>
<circle cx="375.5" cy="147.1" r="1.65" fill="#0a62c8"/>
<circle cx="417.3" cy="143.6" r="1.65" fill="#0000ff"/>
<circle cx="404.3" cy="147.9" r="1.65" fill="#ff00ff"/>
<circle cx="379.5" cy="154.3" r="1.65" fill="#ff00ff"/>
<circle cx="415.3" cy="150.9" r="1.65" fill="#0000ff"/>
<circle cx="408.6" cy="152.3" r="1.65" fill="#f8a400"/>
<circle cx="409.8" cy="154.3" r="1.65" fill="#f8a400"/>
<circle cx="408.6" cy="156.7" r="1.65" fill="#f8a400"/>
<circle cx="412.9" cy="154.0" r="1.65" fill="#e03c0a"/>
<circle cx="418.8" cy="154.0" r="1.65" fill="#0a62c8"/>
<circle cx="416.4" cy="156.0" r="1.65" fill="#0000ff"/>
<circle cx="420.5" cy="157.3" r="1.65" fill="#ff0000"/>
<circle cx="403.8" cy="156.3" r="1.65" fill="#ff00ff"/>
<circle cx="405.0" cy="159.2" r="1.65" fill="#00ee00"/>
<circle cx="410.2" cy="160.0" r="1.65" fill="#0000ff"/>
<circle cx="379.1" cy="160.3" r="1.65" fill="#2ab8f4"/>
<circle cx="369.8" cy="164.6" r="1.65" fill="#ff00ff"/>
<circle cx="373.3" cy="165.3" r="1.65" fill="#ff00ff"/>
<circle cx="385.3" cy="167.8" r="1.65" fill="#00ee00"/>
<circle cx="390.4" cy="167.5" r="1.65" fill="#2ab8f4"/>
<circle cx="378.1" cy="171.5" r="1.65" fill="#e03c0a"/>
<circle cx="382.8" cy="176.0" r="1.65" fill="#4e961c"/>
<circle cx="413.1" cy="164.0" r="1.65" fill="#0000ff"/>
<circle cx="415.3" cy="162.5" r="1.65" fill="#0a62c8"/>
<circle cx="402.5" cy="164.4" r="1.65" fill="#f8a400"/>
<circle cx="407.1" cy="165.9" r="1.65" fill="#6c0a8e"/>
<circle cx="417.5" cy="166.5" r="1.65" fill="#0000ff"/>
<circle cx="404.1" cy="167.9" r="1.65" fill="#ff00ff"/>
<circle cx="414.1" cy="168.5" r="1.65" fill="#6c0a8e"/>
<circle cx="415.6" cy="167.5" r="1.65" fill="#6c0a8e"/>
<circle cx="411.0" cy="170.9" r="1.65" fill="#ff0000"/>
<circle cx="405.6" cy="171.9" r="1.65" fill="#4e961c"/>
<circle cx="402.9" cy="173.8" r="1.65" fill="#6c0a8e"/>
<circle cx="404.8" cy="173.4" r="1.65" fill="#6c0a8e"/>
<circle cx="407.3" cy="176.6" r="1.65" fill="#ff0000"/>
<circle cx="405.3" cy="180.6" r="1.65" fill="#6c0a8e"/>
<circle cx="401.6" cy="185.3" r="1.65" fill="#6c0a8e"/>
<circle cx="382.5" cy="186.9" r="1.65" fill="#2ab8f4"/>
<circle cx="138.4" cy="294.1" r="1.65" fill="#e03c0a"/>
<circle cx="151.5" cy="301.9" r="1.65" fill="#0000ff"/>
<circle cx="171.5" cy="310.5" r="1.65" fill="#ff00ff"/>
<circle cx="156.7" cy="329.6" r="1.65" fill="#0000ff"/>
<circle cx="137.5" cy="344.8" r="1.65" fill="#ff00ff"/>
<circle cx="149.2" cy="345.9" r="1.65" fill="#0000ff"/>
<circle cx="156.2" cy="348.2" r="1.65" fill="#e03c0a"/>
<circle cx="147.1" cy="356.3" r="1.65" fill="#2ab8f4"/>
<circle cx="139.3" cy="371.8" r="1.65" fill="#00ee00"/>
<circle cx="141.1" cy="375.6" r="1.65" fill="#6c0a8e"/>
<circle cx="150.3" cy="375.3" r="1.65" fill="#0000ff"/>
<circle cx="149.0" cy="380.0" r="1.65" fill="#6c0a8e"/>
<circle cx="71.8" cy="376.8" r="1.65" fill="#ff00ff"/>
<circle cx="95.4" cy="376.0" r="1.65" fill="#2ab8f4"/>
<circle cx="115.9" cy="384.4" r="1.65" fill="#0a62c8"/>
<circle cx="113.1" cy="388.4" r="1.65" fill="#0a62c8"/>
<circle cx="118.1" cy="390.4" r="1.65" fill="#2ab8f4"/>
<circle cx="136.0" cy="383.5" r="1.65" fill="#f8a400"/>
<circle cx="151.6" cy="384.3" r="1.65" fill="#0000ff"/>
<circle cx="144.4" cy="390.0" r="1.65" fill="#4e961c"/>
<circle cx="146.6" cy="392.9" r="1.65" fill="#0a62c8"/>
<circle cx="139.0" cy="393.4" r="1.65" fill="#6c0a8e"/>
<circle cx="149.6" cy="394.5" r="1.65" fill="#6c0a8e"/>
<circle cx="135.6" cy="395.0" r="1.65" fill="#ff00ff"/>
<circle cx="144.6" cy="396.5" r="1.65" fill="#0a62c8"/>
<circle cx="136.9" cy="398.1" r="1.65" fill="#ff0000"/>
<circle cx="140.3" cy="398.5" r="1.65" fill="#6c0a8e"/>
<circle cx="134.4" cy="401.6" r="1.65" fill="#ff00ff"/>
<circle cx="136.6" cy="405.4" r="1.65" fill="#ff0000"/>
<circle cx="141.6" cy="403.8" r="1.65" fill="#e03c0a"/>
<circle cx="120.4" cy="404.0" r="1.65" fill="#00ee00"/>
<circle cx="137.9" cy="413.8" r="1.65" fill="#6c0a8e"/>
<circle cx="116.2" cy="422.7" r="1.65" fill="#00ee00"/>
<circle cx="116.8" cy="422.9" r="1.65" fill="#2ab8f4"/>
<text x="188.4" y="61.5" font-size="7" font-weight="bold" textLength="63.6" lengthAdjust="spacingAndGlyphs" fill="#111">Alpha-ketoglutaric</text>
<text x="188.4" y="70.3" font-size="7" font-weight="bold" textLength="13.2" lengthAdjust="spacingAndGlyphs" fill="#111">acid</text>
<text x="173.0" y="91.5" font-size="7" font-weight="bold" textLength="39.0" lengthAdjust="spacingAndGlyphs" fill="#111">Kynurenine</text>
<text x="169.8" y="123.8" font-size="7" font-weight="bold" textLength="46.4" lengthAdjust="spacingAndGlyphs" fill="#111">Glutamic acid</text>
<text x="33.7" y="133.5" font-size="7" font-weight="bold" textLength="74.8" lengthAdjust="spacingAndGlyphs" fill="#111">p-Hydroxyhippuric acid</text>
<text x="36.2" y="146.3" font-size="7" font-weight="bold" textLength="54.3" lengthAdjust="spacingAndGlyphs" fill="#111">Acetyl-ornithine</text>
<text x="98.9" y="155.5" font-size="7" font-weight="bold" textLength="9.4" lengthAdjust="spacingAndGlyphs" fill="#111">C9</text>
<text x="435.4" y="63.7" font-size="7" font-weight="bold" textLength="80.2" lengthAdjust="spacingAndGlyphs" fill="#111">Alpha-ketoglutaric acid</text>
<text x="434.0" y="101.5" font-size="7" font-weight="bold" textLength="38.3" lengthAdjust="spacingAndGlyphs" fill="#111">Kynurenine</text>
<text x="431.7" y="112.7" font-size="7" font-weight="bold" textLength="46.6" lengthAdjust="spacingAndGlyphs" fill="#111">Glutamic acid</text>
<text x="430.2" y="120.9" font-size="7" font-weight="bold" textLength="25.9" lengthAdjust="spacingAndGlyphs" fill="#111">18:0SM</text>
<text x="292.3" y="141.5" font-size="7" font-weight="bold" textLength="64.2" lengthAdjust="spacingAndGlyphs" fill="#111">p-Hydroxyhippuric</text>
<text x="317.6" y="149.7" font-size="7" font-weight="bold" textLength="13.6" lengthAdjust="spacingAndGlyphs" fill="#111">acid</text>
<text x="358.2" y="147.4" font-size="7" font-weight="bold" textLength="8.4" lengthAdjust="spacingAndGlyphs" fill="#111">C9</text>
<text x="311.9" y="165.1" font-size="7" font-weight="bold" textLength="54.6" lengthAdjust="spacingAndGlyphs" fill="#111">Acetyl-ornithine</text>
<text x="175.0" y="312.0" font-size="7" font-weight="bold" textLength="64.2" lengthAdjust="spacingAndGlyphs" fill="#111">Alpha-ketoglutaric</text>
<text x="175.0" y="320.3" font-size="7" font-weight="bold" textLength="13.8" lengthAdjust="spacingAndGlyphs" fill="#111">acid</text>
<text x="160.2" y="332.3" font-size="7" font-weight="bold" textLength="25.6" lengthAdjust="spacingAndGlyphs" fill="#111">18:0SM</text>
<text x="159.9" y="350.5" font-size="7" font-weight="bold" textLength="38.6" lengthAdjust="spacingAndGlyphs" fill="#111">Kynurenine</text>
<text x="33.4" y="369.1" font-size="7" font-weight="bold" textLength="63.1" lengthAdjust="spacingAndGlyphs" fill="#111">p-Hydroxyhippuric</text>
<text x="55.8" y="377.7" font-size="7" font-weight="bold" textLength="13.4" lengthAdjust="spacingAndGlyphs" fill="#111">acid</text>
<text x="90.8" y="385.2" font-size="7" font-weight="bold" textLength="9.2" lengthAdjust="spacingAndGlyphs" fill="#111">C9</text>
<rect x="0.7" y="0.7" width="518.6" height="466.6" fill="none" stroke="#000" stroke-width="1.4"/>
</svg>
</body></html>
